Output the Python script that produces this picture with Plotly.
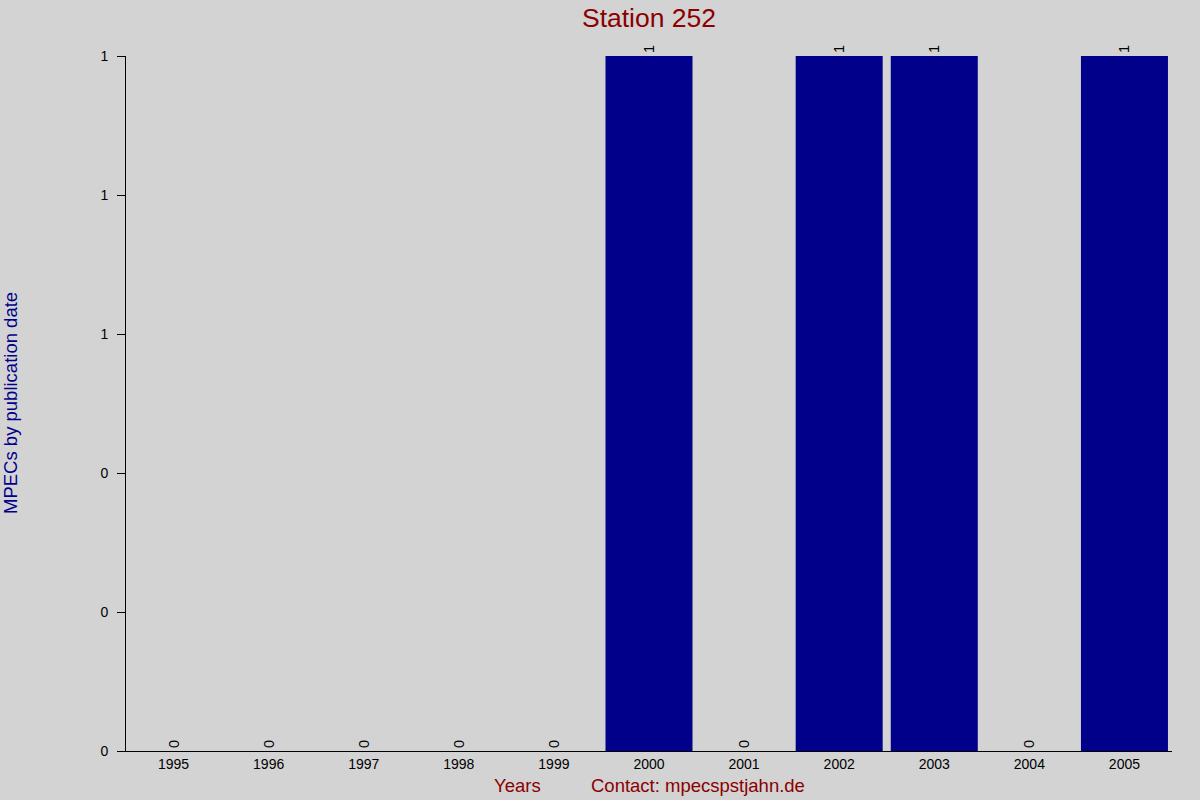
import plotly.graph_objects as go

years = ["1995", "1996", "1997", "1998", "1999", "2000", "2001", "2002", "2003", "2004", "2005"]
mpecs = [0, 0, 0, 0, 0, 1, 0, 1, 1, 0, 1]

FONT = "Liberation Sans, Arial, sans-serif"

fig = go.Figure(
    go.Bar(
        x=years,
        y=mpecs,
        marker=dict(color="#00008b", line=dict(width=0)),
        text=[str(v) for v in mpecs],
        textposition="outside",
        textangle=-90,
        textfont=dict(family=FONT, size=14.5, color="#000000"),
        cliponaxis=False,
        constraintext="none",
        hoverinfo="x+y",
    )
)

fig.update_layout(
    width=1200,
    height=800,
    paper_bgcolor="#d3d3d3",
    plot_bgcolor="#d3d3d3",
    margin=dict(l=126, r=28, t=56, b=49),
    bargap=0.085,
    showlegend=False,
    font=dict(family=FONT, size=14, color="#000000"),
    title=dict(
        text="Station 252",
        x=0.5,
        xref="paper",
        xanchor="center",
        y=1 - 18 / 800,
        yref="container",
        yanchor="middle",
        font=dict(family=FONT, size=26.5, color="#8b0000"),
    ),
    xaxis=dict(
        type="category",
        showline=True,
        linecolor="#000000",
        linewidth=1,
        ticks="",
        showgrid=False,
        zeroline=False,
        tickfont=dict(family=FONT, size=14, color="#000000"),
    ),
    yaxis=dict(
        range=[0, 1],
        tickvals=[0, 0.2, 0.4, 0.6, 0.8, 1.0],
        tickformat=".0f",
        showline=True,
        linecolor="#000000",
        linewidth=1,
        ticks="outside",
        ticklen=8,
        tickcolor="#000000",
        ticklabelstandoff=6,
        showgrid=False,
        zeroline=False,
        tickfont=dict(family=FONT, size=14, color="#000000"),
    ),
    annotations=[
        dict(
            text="MPECs by publication date",
            xref="paper", yref="paper",
            x=(10 - 126) / 1046, y=(751 - 403) / 695,
            xanchor="center", yanchor="middle",
            textangle=-90, showarrow=False,
            font=dict(family=FONT, size=18.5, color="#00008b"),
        ),
        dict(
            text="Years",
            xref="paper", yref="paper",
            x=(517 - 126) / 1046, y=(751 - 786) / 695,
            xanchor="center", yanchor="middle",
            showarrow=False,
            font=dict(family=FONT, size=18.5, color="#8b0000"),
        ),
        dict(
            text="Contact: mpecspstjahn.de",
            xref="paper", yref="paper",
            x=(697.5 - 126) / 1046, y=(751 - 786) / 695,
            xanchor="center", yanchor="middle",
            showarrow=False,
            font=dict(family=FONT, size=18.5, color="#8b0000"),
        ),
    ],
)

fig.write_html(
    "out.html",
    config={"displayModeBar": False},
    post_script="document.body.style.margin='0';document.body.style.padding='0';",
)
